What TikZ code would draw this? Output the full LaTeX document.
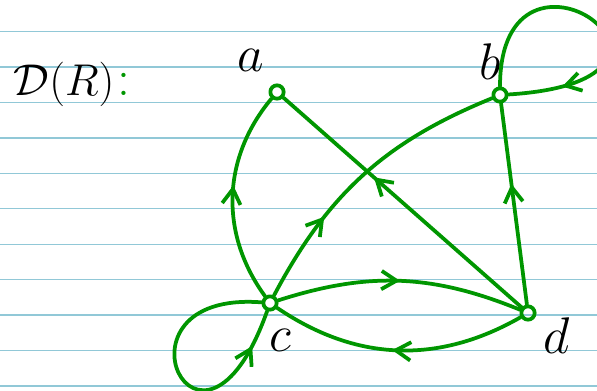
\RequirePackage{fix-cm}
\documentclass[tikz,border=0pt]{standalone}
\usepackage{amsmath,amssymb}
\usepackage{tikz}
\usetikzlibrary{arrows.meta,decorations.markings}
\definecolor{ink}{RGB}{0,150,0}
\definecolor{paper}{RGB}{145,200,215}
\tikzset{
  vert/.style={circle,draw=ink,line width=3.2pt,minimum size=0.4cm,inner sep=0pt},
  edge/.style={draw=ink,line width=3.2pt,line cap=round},
  midarrow/.style={postaction={decorate,decoration={markings,
    mark=at position #1 with {\arrow[ink,line width=3.2pt]{Straight Barb[length=4.5mm,width=5.5mm]}}}}},
  lbl/.style={font=\fontsize{44}{46}\selectfont}
}

\begin{document}
\begin{tikzpicture}[x=0.03cm,y=-0.03cm,line join=round]
  % page and ruled lines
  \useasboundingbox (0,0) rectangle (597,390);
  \clip (0,0) rectangle (597,390);
  \fill[white] (0,0) rectangle (597,390);
  \foreach \k in {0,...,10}{
    \draw[paper,line width=1.1pt] (0,31.6+35.44*\k) -- (597,31.6+35.44*\k);
  }
  % title
  \node[font=\fontsize{38}{40}\selectfont] (title) at (64,84) {$\mathcal{D}(R)$};
  \node[lbl,ink,right=-4pt] (colon) at (title.east) {$:$};
  % vertices
  \node[vert] (a) at (277,92) {};
  \node[vert] (b) at (500,95) {};
  \node[vert] (c) at (270,303) {};
  \node[vert] (d) at (528,313) {};
  \node[lbl] (la) at (251,60) {$a$};
  \node[lbl] (lb) at (490,62) {$b$};
  \node[lbl] (lc) at (280,340) {$c$};
  \node[lbl] (ld) at (557,336) {$d$};
  % arcs
  \draw[edge,midarrow=0.55] (c) to[bend left=38] (a);
  \draw[edge,midarrow=0.62] (d) -- (a);
  \draw[edge,midarrow=0.31] (c) to[bend left=20] (b);
  \draw[edge,midarrow=0.6] (d) -- (b);
  \draw[edge,midarrow=0.5] (c) to[bend left=20] (d);
  \draw[edge,midarrow=0.52] (d) to[bend left=32] (c);
  % loops
  \draw[edge,midarrow=0.82] (b) .. controls (500,-90) and (740,80) .. (b);
  \draw[edge,midarrow=0.86] (c) .. controls (100,290) and (200,500) .. (c);
\end{tikzpicture}
\end{document}
